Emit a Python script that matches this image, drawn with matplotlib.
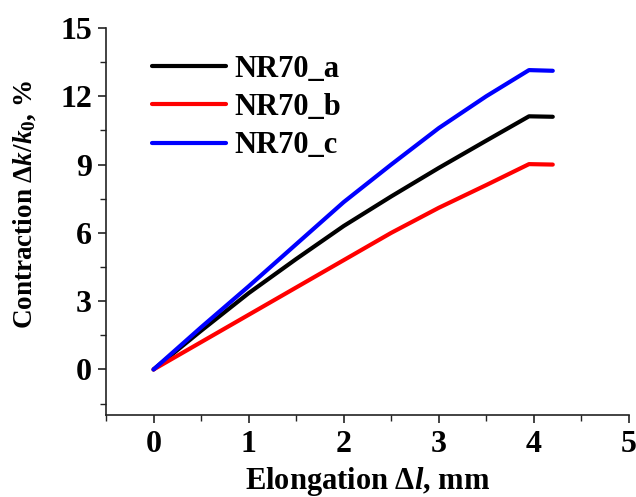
import matplotlib
matplotlib.use("Agg")
import matplotlib.pyplot as plt
from matplotlib.ticker import MultipleLocator

# Datos
elongation = [0, 0.5, 1.0, 1.5, 2.0, 2.5, 3.0, 3.5, 3.95, 4.2]
nr70_a = [0, 1.7, 3.35, 4.85, 6.3, 7.6, 8.85, 10.05, 11.12, 11.1]
nr70_b = [0, 1.2, 2.4, 3.6, 4.8, 6.0, 7.1, 8.1, 9.02, 9.0]
nr70_c = [0, 1.85, 3.65, 5.5, 7.35, 9.0, 10.6, 12.0, 13.15, 13.12]

labels = ["NR70_a", "NR70_b", "NR70_c"]
colors = ["black", "red", "blue"]

plt.rcParams['font.family'] = ['Liberation Serif', 'DejaVu Serif']
plt.rcParams['font.weight'] = 'bold'
plt.rcParams['mathtext.fontset'] = 'custom'
plt.rcParams['mathtext.rm'] = 'Liberation Serif:bold'
plt.rcParams['mathtext.it'] = 'Liberation Serif:bold:italic'
plt.rcParams['mathtext.bf'] = 'Liberation Serif:bold'

fig = plt.figure(figsize=(6.36, 4.97), dpi=100)
ax = fig.add_axes([0.1667, 0.165, 0.822, 0.7787])

for ys, lab, col in zip([nr70_a, nr70_b, nr70_c], labels, colors):
    ax.plot(elongation, ys, color=col, lw=3, label=lab, solid_capstyle='round',
            solid_joinstyle='round')

ax.set_xlim(-0.5, 5)
ax.set_ylim(-2, 15)
ax.xaxis.set_major_locator(MultipleLocator(1))
ax.xaxis.set_minor_locator(MultipleLocator(0.5))
ax.yaxis.set_major_locator(MultipleLocator(3))
ax.yaxis.set_minor_locator(MultipleLocator(1.5))

for side in ['top', 'right']:
    ax.spines[side].set_visible(False)
for side in ['left', 'bottom']:
    ax.spines[side].set_linewidth(1.2)
    ax.spines[side].set_color('#222222')

ax.tick_params(which='major', direction='out', length=6, width=1.2, labelsize=23, colors='#222222')
ax.tick_params(which='minor', direction='out', length=4, width=1.0, colors='#222222')
ax.tick_params(axis='x', pad=5)
ax.tick_params(axis='y', pad=4)
for t in ax.get_xticklabels() + ax.get_yticklabels():
    t.set_fontweight('bold')
    t.set_color('black')

ax.set_xlabel(r'Elongation $\Delta\mathit{l}$, mm', fontsize=22, fontweight='bold', labelpad=4)
ax.set_ylabel(r'Contraction $\mathit{Δk/k}_{\mathit{0}}$, %', fontsize=19.5, fontweight='bold')
ax.yaxis.set_label_coords(-0.13, 0.545)

leg = ax.legend(loc='upper left', bbox_to_anchor=(0.065, 0.962), frameon=False,
                fontsize=22, handlelength=2.4, handletextpad=0.3, labelspacing=0.3,
                borderaxespad=0)
for txt in leg.get_texts():
    txt.set_fontweight('bold')

fig.savefig("out.png", dpi=100)
